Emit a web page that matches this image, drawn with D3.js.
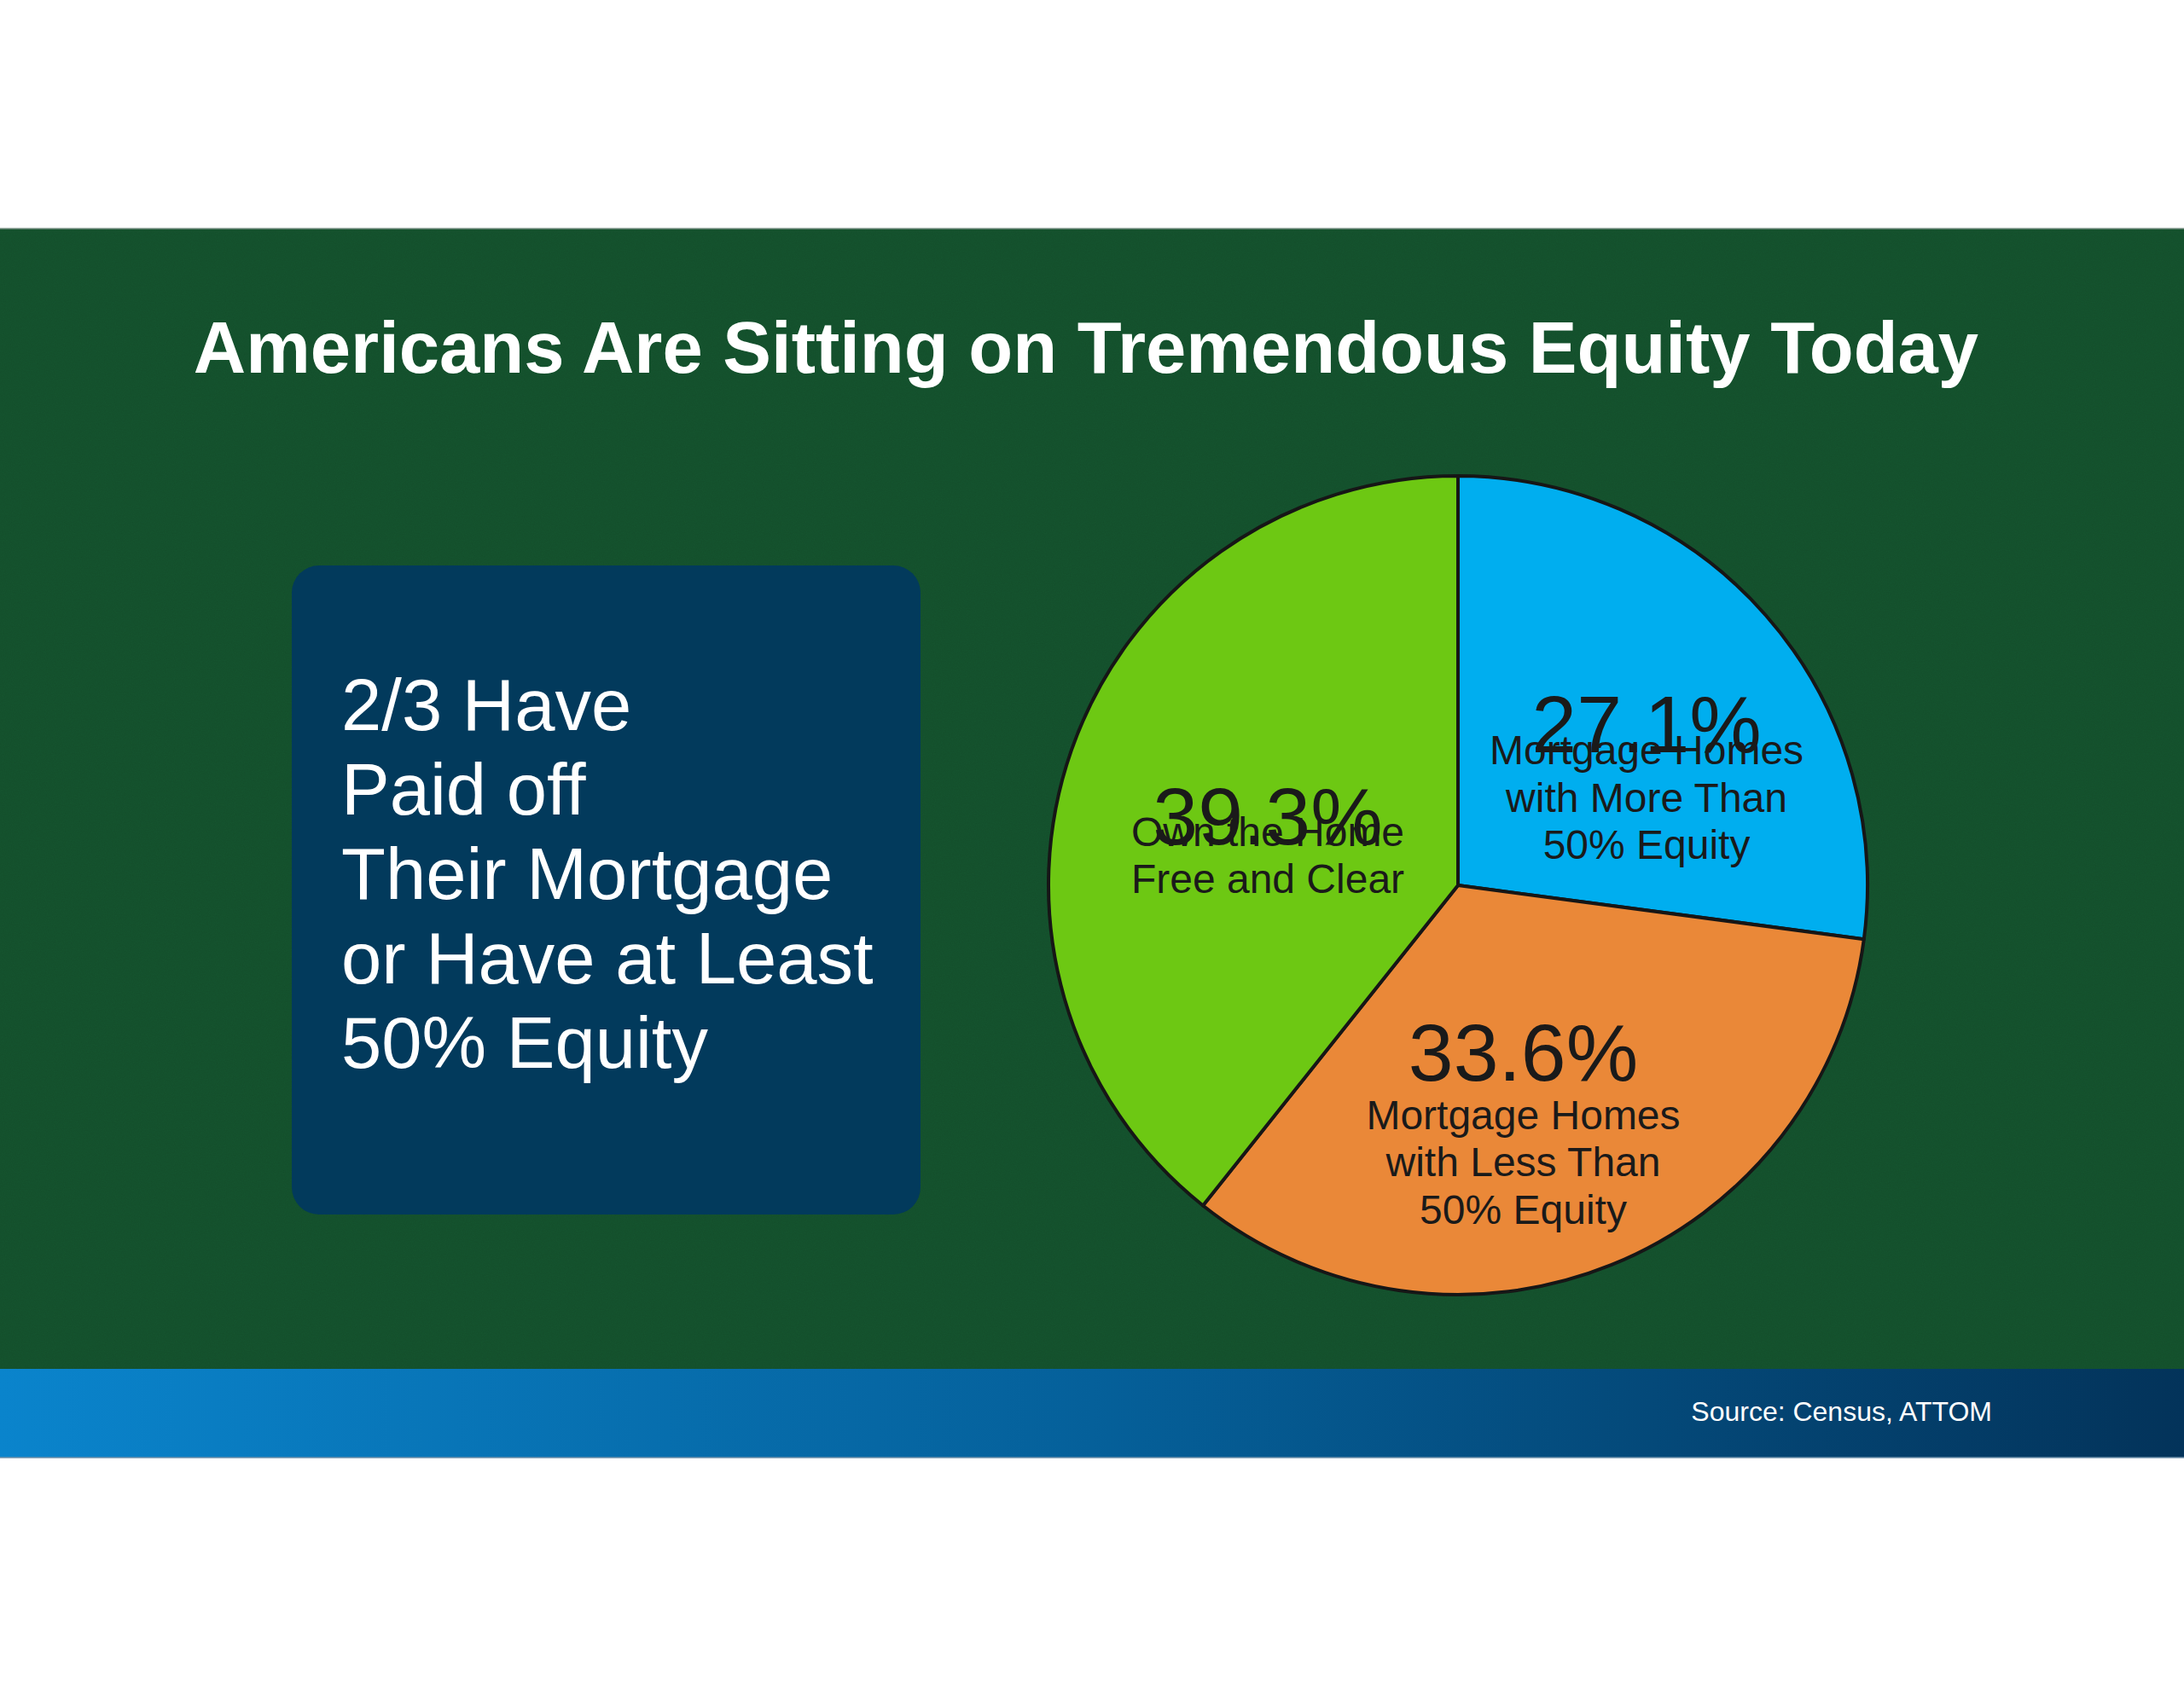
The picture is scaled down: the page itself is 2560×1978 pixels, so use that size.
<!DOCTYPE html>
<html>
<head>
<meta charset="utf-8">
<script src="https://cdn.jsdelivr.net/npm/d3@7"></script>
<style>
  html, body { margin: 0; padding: 0; background: #fff; }
  svg { display: block; font-family: "Liberation Sans", Arial, sans-serif; }
</style>
</head>
<body>
<svg id="chart" width="2560" height="1978"></svg>
<script>
// data
const categories = [
  "Mortgage Homes\nwith More Than\n50% Equity",
  "Mortgage Homes\nwith Less Than\n50% Equity",
  "Own the Home\nFree and Clear",
];
const shares = [27.1, 33.6, 39.3];
const sliceColors = ["#00aeef", "#ea8838", "#6dc813"];
const title = "Americans Are Sitting on Tremendous Equity Today";
const calloutLines = ["2/3 Have", "Paid off", "Their Mortgage", "or Have at Least", "50% Equity"];
const source = "Source: Census, ATTOM";

const width = 2560;
const height = 1978;
const bandTop = 268;
const bandBottom = 1605;
const footerBottom = 1709;
const cx = 1709;
const cy = 1038;
const radius = 480;

const svg = d3.select("#chart");
const defs = svg.append("defs");

// slight grain on the green background
const grain = defs.append("filter").attr("id", "grain").attr("x", 0).attr("y", 0).attr("width", 1).attr("height", 1);
grain.append("feTurbulence").attr("type", "fractalNoise").attr("baseFrequency", 0.9).attr("numOctaves", 2).attr("seed", 3);
grain.append("feColorMatrix").attr("type", "matrix")
  .attr("values", "0 0 0 0 0  0 0 0 0 0  0 0 0 0 0  0 0 0 0.09 0");
grain.append("feComposite").attr("in2", "SourceGraphic").attr("operator", "in");

const footerGrad = defs.append("linearGradient").attr("id", "footerGrad").attr("x1", "0%").attr("x2", "100%");
footerGrad.append("stop").attr("offset", "0%").attr("stop-color", "#0a84cc");
footerGrad.append("stop").attr("offset", "50%").attr("stop-color", "#05609a");
footerGrad.append("stop").attr("offset", "100%").attr("stop-color", "#03335a");

svg.append("rect").attr("width", width).attr("height", height).attr("fill", "#fff");

svg.append("rect")
  .attr("x", 0).attr("y", bandTop)
  .attr("width", width).attr("height", bandBottom - bandTop)
  .attr("fill", "#15552f");
svg.append("rect")
  .attr("x", 0).attr("y", bandTop)
  .attr("width", width).attr("height", bandBottom - bandTop)
  .attr("fill", "#000")
  .attr("filter", "url(#grain)");
svg.append("line")
  .attr("x1", 0).attr("x2", width).attr("y1", bandTop).attr("y2", bandTop)
  .attr("stroke", "#7c9489").attr("stroke-width", 1.5);

svg.append("rect")
  .attr("x", 0).attr("y", bandBottom)
  .attr("width", width).attr("height", footerBottom - bandBottom)
  .attr("fill", "url(#footerGrad)");
svg.append("line")
  .attr("x1", 0).attr("x2", width).attr("y1", footerBottom).attr("y2", footerBottom)
  .attr("stroke", "#6d8fa8").attr("stroke-width", 1.5);

svg.append("text")
  .attr("x", 1273).attr("y", 437)
  .attr("text-anchor", "middle")
  .attr("fill", "#fff")
  .style("font-size", "85px")
  .style("font-weight", "bold")
  .text(title);

// callout box
svg.append("rect")
  .attr("x", 342).attr("y", 663)
  .attr("width", 737).attr("height", 761)
  .attr("rx", 32).attr("ry", 32)
  .attr("fill", "#023a5c");

svg.append("text")
  .attr("fill", "#fff")
  .style("font-size", "85px")
  .selectAll("tspan")
  .data(calloutLines)
  .join("tspan")
  .attr("x", 400)
  .attr("y", (d, i) => 856 + i * 99)
  .text((d) => d);

svg.append("text")
  .attr("x", 2335).attr("y", 1666)
  .attr("text-anchor", "end")
  .attr("fill", "#fff")
  .style("font-size", "32px")
  .text(source);

// pie
const slices = categories.map((c, i) => ({ label: c, value: shares[i], color: sliceColors[i] }));
const pie = d3.pie().sort(null).value((d) => d.value);
const arc = d3.arc().innerRadius(0).outerRadius(radius);
const labelArc = d3.arc().innerRadius(250).outerRadius(250);
const arcs = pie(slices);

const g = svg.append("g").attr("transform", `translate(${cx},${cy})`);

g.selectAll("path")
  .data(arcs)
  .join("path")
  .attr("d", arc)
  .attr("fill", (d) => d.data.color)
  .attr("stroke", "#161616")
  .attr("stroke-width", 4)
  .attr("stroke-linejoin", "round");

// label layout nudges (Excel-style best fit placement)
const labelNudge = [
  { dx: 33, dy: 9, first: 14 },
  { dx: -17, dy: -3, first: 57 },
  { dx: 13, dy: 34, first: 2 },
];

const labels = g.selectAll("g.label")
  .data(arcs)
  .join("g")
  .attr("class", "label")
  .attr("transform", (d, i) => {
    const [x, y] = labelArc.centroid(d);
    return `translate(${x + labelNudge[i].dx},${y + labelNudge[i].dy})`;
  });

labels.append("text")
  .attr("text-anchor", "middle")
  .attr("fill", "#1a1a1a")
  .style("font-size", "95px")
  .text((d) => d.data.value.toFixed(1) + "%");

labels.append("text")
  .attr("text-anchor", "middle")
  .attr("fill", "#1a1a1a")
  .style("font-size", "48px")
  .each(function (d, i) {
    d3.select(this)
      .selectAll("tspan")
      .data(d.data.label.split("\n"))
      .join("tspan")
      .attr("x", 0)
      .attr("y", (t, j) => labelNudge[i].first + j * 55.5)
      .text((t) => t);
  });
</script>
</body>
</html>
